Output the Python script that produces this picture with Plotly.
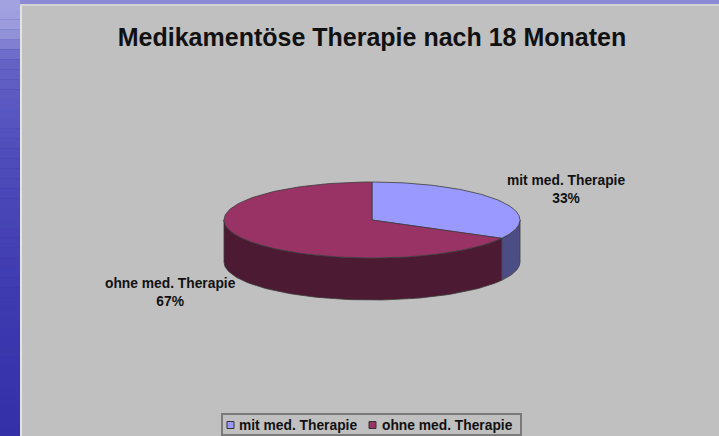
import numpy as np
import plotly.graph_objects as go

# ---- data ----
categories = ["mit med. Therapie", "ohne med. Therapie"]
values = [33, 67]
title_text = "Medikamentöse Therapie nach 18 Monaten"

# ---- styling ----
top_colors = ["#9999FF", "#993366"]
side_colors = ["#4D4D85", "#4D1A33"]
edge_color = "#3C3C3C"
W, H = 719, 436
CX, CY, RX, RY, DEPTH = 372, 220, 148, 38, 42
FONT = "Liberation Sans, Arial, sans-serif"
TXT = "#111111"


def pt(theta_deg, dy=0.0):
    t = np.radians(theta_deg)
    return CX + RX * np.sin(t), CY - RY * np.cos(t) + dy


fig = go.Figure()

# slice angles from data
total = float(sum(values))
bounds = []
acc = 0.0
for v in values:
    a0 = acc / total * 360.0
    acc += v
    a1 = acc / total * 360.0
    bounds.append((a0, a1))

# side walls (front half: 90..270 deg)
for cat, (a0, a1), col in zip(categories, bounds, side_colors):
    s0, s1 = max(a0, 90.0), min(a1, 270.0)
    if s1 <= s0:
        continue
    th = np.linspace(s0, s1, 80)
    xs_t, ys_t = pt(th)
    xs_b, ys_b = pt(th[::-1], DEPTH)
    xs = np.concatenate([xs_t, xs_b, xs_t[:1]])
    ys = np.concatenate([ys_t, ys_b, ys_t[:1]])
    fig.add_trace(go.Scatter(x=xs, y=ys, mode="lines", fill="toself",
                             fillcolor=col, line=dict(color=edge_color, width=0.8),
                             hoverinfo="skip", showlegend=False, name=cat))

# top faces
for cat, v, (a0, a1), col in zip(categories, values, bounds, top_colors):
    th = np.linspace(a0, a1, 120)
    xa, ya = pt(th)
    xs = np.concatenate([[CX], xa, [CX]])
    ys = np.concatenate([[CY], ya, [CY]])
    fig.add_trace(go.Scatter(x=xs, y=ys, mode="lines", fill="toself",
                             fillcolor=col, line=dict(color=edge_color, width=0.8),
                             hoveron="fills", hoverinfo="text",
                             text=f"{cat}: {v}%", showlegend=False, name=cat))

# data labels
label_pos = [(566, 189), (170, 292)]
for cat, v, (lx, ly) in zip(categories, values, label_pos):
    pct = round(v / total * 100)
    fig.add_annotation(x=lx, y=ly, xref="x", yref="y", showarrow=False,
                       text=f"<b>{cat}</b><br><b>{pct}%</b>",
                       font=dict(family=FONT, size=13.8, color=TXT),
                       align="center")

# background: blue gradient slide + gray chart area
shapes = []
stops = [(0, (0xA4, 0xA4, 0xE2)), (30, (0x9A, 0x9A, 0xDC)), (60, (0x66, 0x64, 0xC6)),
         (150, (0x50, 0x4E, 0xBC)), (300, (0x3E, 0x3A, 0xB0)), (436, (0x34, 0x30, 0xA8))]
ys_st = [s[0] for s in stops]
nb = 44
for i in range(nb):
    y0 = H * i / nb
    y1 = H * (i + 1) / nb
    ym = (y0 + y1) / 2
    c = [int(np.interp(ym, ys_st, [s[1][k] for s in stops])) for k in range(3)]
    shapes.append(dict(type="rect", xref="paper", yref="paper", layer="below",
                       x0=0, x1=1, y0=1 - y1 / H, y1=1 - y0 / H,
                       fillcolor=f"rgb({c[0]},{c[1]},{c[2]})", line=dict(width=0)))
shapes.append(dict(type="rect", xref="paper", yref="paper", layer="below",
                   x0=20 / W, x1=1, y0=1 - 4 / H, y1=1,
                   fillcolor="#8C8AD4", line=dict(width=0)))
shapes.append(dict(type="rect", xref="paper", yref="paper", layer="below",
                   x0=20 / W, x1=1, y0=0, y1=1 - 4 / H,
                   fillcolor="#C0C0C0", line=dict(width=0)))
shapes.append(dict(type="line", xref="paper", yref="paper", layer="below",
                   x0=21 / W, x1=21 / W, y0=0, y1=1 - 4 / H,
                   line=dict(color="#E2E2E2", width=2)))
shapes.append(dict(type="line", xref="paper", yref="paper", layer="below",
                   x0=20 / W, x1=1, y0=1 - 5 / H, y1=1 - 5 / H,
                   line=dict(color="#D4D4D4", width=2)))

# legend box (Excel-style, symbols right next to text)
LEG_X0, LEG_X1, LEG_Y0, LEG_Y1, LEG_YC = 222, 521, 414, 435, 425
shapes.append(dict(type="rect", xref="x", yref="y", layer="above",
                   x0=LEG_X0, x1=LEG_X1, y0=LEG_Y0, y1=LEG_Y1,
                   fillcolor="#C0C0C0", line=dict(color="#7A7A7A", width=2)))
leg_sym_x = [227, 369]
leg_txt_x = [237, 380]
for cat, col, sx, tx in zip(categories, top_colors, leg_sym_x, leg_txt_x):
    shapes.append(dict(type="rect", xref="x", yref="y", layer="above",
                       x0=sx, x1=sx + 7, y0=LEG_YC - 3.5, y1=LEG_YC + 3.5,
                       fillcolor=col, line=dict(color="#333333", width=1)))
    fig.add_annotation(x=tx, y=LEG_YC, xref="x", yref="y", showarrow=False,
                       text=f"<b>{cat}</b>", xanchor="left", yanchor="middle",
                       font=dict(family=FONT, size=13.8, color=TXT))

fig.update_layout(
    width=W, height=H,
    margin=dict(l=0, r=0, t=0, b=0, autoexpand=False),
    paper_bgcolor="#3A36AC",
    plot_bgcolor="rgba(0,0,0,0)",
    shapes=shapes,
    title=dict(text=f"<b>{title_text}</b>", x=372 / W, xanchor="center",
               y=1 - 37 / H, yanchor="middle",
               font=dict(family=FONT, size=25, color=TXT)),
    xaxis=dict(range=[0, W], visible=False, fixedrange=True),
    yaxis=dict(range=[H, 0], visible=False, fixedrange=True),
    showlegend=False,
)

fig.write_html("out.html",
               config={"displayModeBar": False},
               post_script="document.body.style.margin='0';"
                           "document.body.style.overflow='hidden';")
